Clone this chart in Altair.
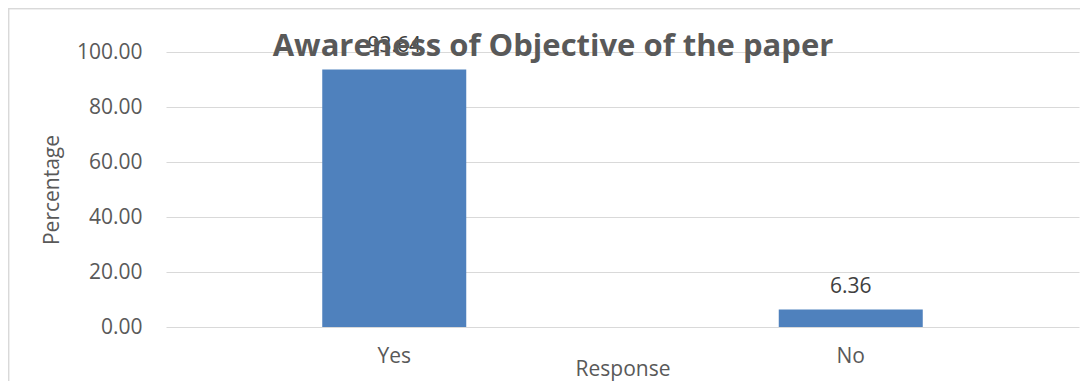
import altair as alt
import pandas as pd

responses = ["Yes", "No"]
percentages = [93.64, 6.36]
y_ticks = [0, 20, 40, 60, 80, 100]

df = pd.DataFrame({"Response": responses, "Percentage": percentages})

FONT = "Open Sans"
base = alt.Chart(df)

x_enc = alt.X(
    "Response:N",
    sort=responses,
    scale=alt.Scale(paddingInner=0, paddingOuter=0),
    axis=alt.Axis(
        title="Response", labelAngle=0, ticks=False, domain=False, grid=False,
        labelFont=FONT, labelFontSize=21, labelColor="#595959", labelPadding=18,
        titleFont=FONT, titleFontSize=21, titleColor="#595959", titleFontWeight="normal",
        titlePadding=-8,
    ),
)
y_enc = alt.Y(
    "Percentage:Q",
    scale=alt.Scale(domain=[0, 100], nice=False),
    axis=alt.Axis(
        title="Percentage", values=y_ticks, format=".2f", ticks=False, domain=False,
        grid=True, gridColor="#d9d9d9", gridWidth=1.2,
        labelFont=FONT, labelFontSize=21, labelColor="#595959", labelPadding=24,
        titleFont=FONT, titleFontSize=21, titleColor="#595959", titleFontWeight="normal",
        titlePadding=14,
    ),
)

bars = base.mark_bar(size=144, color="#4f81bd").encode(x=x_enc, y=y_enc)

labels = base.mark_text(
    baseline="alphabetic", dy=-17, font=FONT, fontSize=21, color="#404040"
).encode(
    x=x_enc,
    y=y_enc,
    text=alt.Text("Percentage:Q", format=".2f"),
)

border = base.mark_rect(fill="transparent", stroke="#d9d9d9", strokeWidth=1.5, clip=False).encode(
    x=alt.value(-157.5), x2=alt.value(930), y=alt.value(-43.5), y2=alt.value(400)
)

chart = (
    alt.layer(border, bars, labels, view=alt.ViewBackground(stroke="transparent", strokeWidth=0))
    .properties(
        width=913,
        height=275,
        autosize=alt.AutoSizeParams(type="none"),
        padding={"left": 158, "top": 44, "right": 1, "bottom": 54},
        title=alt.TitleParams(
            "Awareness of Objective of the paper",
            font=FONT, fontSize=31, fontWeight="bold", color="#595959",
            anchor="middle", frame="group", baseline="alphabetic", offset=0,
            dy=79.25, dx=-69.5,
        ),
    )
    .configure_view(stroke="transparent", strokeWidth=0)
    .configure(background="white")
)

chart.save("out.html", embed_options={"renderer": "svg", "actions": False})
